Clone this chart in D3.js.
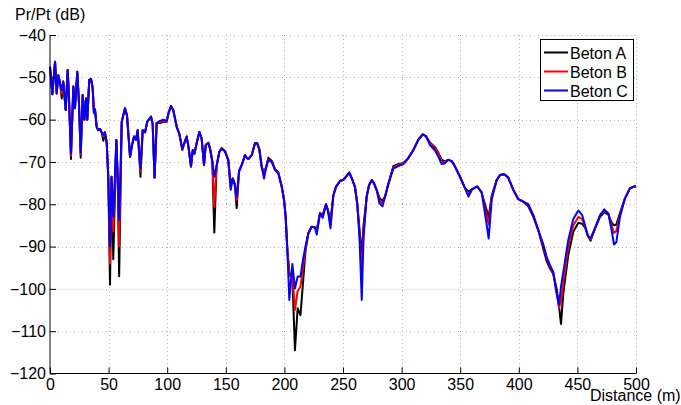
<!DOCTYPE html>
<html><head><meta charset="utf-8">
<script src="https://cdn.jsdelivr.net/npm/d3@7/dist/d3.min.js"></script>
<style>body{margin:0;background:#fff;}svg{display:block;font-family:"Liberation Sans",Arial,sans-serif;}</style>
</head><body>
<svg id="c" width="681" height="405"></svg>
<script>
const distance = [0,2.0,4.3,5.7,7.1,8.5,10.0,11.3,13.4,15.1,16.2,17.9,19.9,21.3,23.3,24.7,26.2,27.9,29.3,30.7,31.8,33.5,35.0,36.4,37.5,38.4,39.8,41.2,42.7,44.1,45.5,46.9,48.4,49.7,51.2,52.5,54.0,56.6,57.8,59.0,61.2,64.0,65.7,68.3,70.0,71.7,73.4,74.8,77.2,79.1,81.1,83.0,86.2,87.6,89.2,91.0,93.9,96.7,99.6,101.1,103.2,105.2,108.1,110.3,112.9,114.3,116.6,118.2,120.3,121.8,123.3,125.2,127.4,129.4,131.4,132.9,135.1,136.5,138.5,140.2,142.1,144.5,146.5,149.3,152.1,154.2,155.9,157.6,159.3,161.3,163.6,166.4,167.8,169.2,172.1,174.9,176.6,178.6,180.6,182.6,184.3,186.3,189.2,192.0,194.8,197.7,199.7,201.1,202.5,204.2,206.8,209.0,211.3,213.7,215.9,218.0,220.4,223.3,226.1,227.6,230.4,232.7,235.5,237.2,239.3,241.7,244.0,247.4,250.3,252.6,255.4,257.7,260.2,262.2,264.1,266.0,267.5,270.2,272.2,274.5,276.4,278.8,281.1,283.7,286.1,288.6,292.9,297.2,301.5,305.7,310.0,314.2,318.0,320.8,324.2,328.5,331.3,334.2,337.0,339.8,342.7,345.6,349.8,354.1,357.1,360.1,364.6,368.3,371.6,374.3,376.9,381.1,384.0,387.6,391.0,395.3,399.6,403.8,408.1,412.4,416.6,420.9,423.8,426.6,429.4,432.3,434.3,436.0,438.0,442.2,446.5,450.8,454.0,456.5,459.0,461.3,465.0,469.3,472.9,476.4,479.1,481.2,483.2,486.3,490.6,494.9,500.0];

const betonA = [-47.5,-54,-46.3,-53.8,-49.5,-51.3,-55,-51,-57.7,-48.3,-55,-69.3,-52.2,-57.3,-48.7,-56,-69,-54.2,-60,-55,-60,-50.6,-50.4,-52.5,-58.4,-57.6,-61.7,-62.5,-62.2,-63,-65,-63,-65.5,-73.5,-99,-73.5,-93,-64.8,-74,-97,-60.5,-57.3,-59,-68.8,-66,-64,-64.8,-62.5,-73.5,-62.5,-63,-60.5,-59.3,-61,-73.7,-60.8,-60.8,-60.5,-60.5,-58.5,-56.8,-57.8,-61.7,-63.3,-67.2,-65.8,-64,-66.5,-71.1,-67.2,-68,-65.5,-62.9,-64.5,-70.7,-66,-65.5,-66.8,-69.9,-86.7,-71,-67.6,-66.8,-67.5,-69.5,-75.5,-73.9,-75.2,-80.9,-72.2,-70.7,-68.4,-69,-69.3,-68.4,-65.6,-65.5,-67,-71.1,-72.5,-71.3,-69,-69.7,-71.7,-72.5,-75.7,-79,-83,-90.8,-96,-97.5,-114.5,-104.6,-106.2,-98.5,-91,-86.9,-85.3,-85.5,-86,-82.1,-82.5,-80,-81.5,-84,-78,-75.9,-74.5,-74.2,-73.5,-72.5,-74,-75.9,-80,-86,-92,-85,-78.2,-75.5,-74.3,-75,-76.7,-78.5,-79.2,-78,-75.3,-71,-70.5,-70.3,-69.1,-67.2,-64.8,-63.5,-63.9,-65.4,-66.5,-67.8,-69.5,-69.8,-69.5,-69.8,-71.1,-73.5,-76.2,-77,-76.5,-75.8,-77.2,-80.5,-83,-78,-74.3,-73.1,-72.9,-73.7,-76.6,-78.8,-79.4,-80.5,-83,-86.1,-90.5,-93.5,-95.2,-96.5,-100,-104,-108.3,-101,-92,-86.5,-84.4,-84.6,-85.5,-87.5,-88.6,-85.7,-83,-81.9,-82.4,-84.3,-85,-84.8,-82.1,-78.6,-76.2,-75.7];

const betonB = [-47.5,-54,-46.3,-53.8,-49.5,-51.3,-54,-51,-57.7,-48.3,-55,-68.5,-52.2,-57.3,-48.7,-56,-68.2,-54.2,-60,-55,-60,-50.6,-50.4,-52.5,-58.4,-57.6,-61.7,-62.5,-62.2,-63,-64,-63,-65.5,-73.5,-94,-73.5,-86.5,-64.8,-74,-90,-60.5,-57.3,-59,-68.8,-66,-64,-64.8,-62.5,-72.3,-62.5,-63,-60.5,-59.3,-61,-73.7,-60.8,-60.6,-60.3,-60.3,-58.5,-56.8,-57.8,-61.7,-63.3,-67,-65.8,-64,-66.5,-71.1,-67.2,-68,-65.5,-62.9,-64.5,-70.7,-66,-65.5,-66.8,-69.9,-80.6,-71,-67.6,-66.8,-67.5,-69.5,-76,-73.9,-75.2,-79,-72.2,-70.7,-68.4,-69,-69.3,-68.4,-65.6,-65.5,-67,-71.1,-73,-71.4,-69.3,-69.9,-71.8,-72.6,-75.8,-79,-83,-90.8,-97,-96.7,-105,-100.5,-99.5,-95,-90.5,-86.9,-85.3,-85.5,-86.5,-82.1,-82.8,-80,-81.5,-84.8,-78,-75.9,-74.5,-74.2,-73.5,-72.5,-74,-75.9,-80,-87,-97,-86.5,-78.2,-75.5,-74.3,-75,-76.7,-79.2,-79.8,-78,-75.3,-71.3,-70.7,-70.3,-69.1,-67.2,-64.8,-63.5,-63.9,-65.6,-66.8,-68,-70,-70,-69.5,-69.8,-71.1,-73.5,-76.2,-77.7,-76.5,-75.8,-77.2,-81.5,-84.8,-78.2,-74.3,-73.1,-72.9,-73.7,-76.6,-78.8,-79.4,-80.2,-82.6,-86.1,-89.8,-92.8,-94.8,-96.3,-101,-104.5,-103,-98.5,-90,-85,-83,-83.5,-85.3,-87.5,-88.3,-85.7,-82.6,-81.5,-82.2,-85,-86.8,-86.3,-82.5,-78.6,-76.2,-75.7];

const betonC = [-47.5,-54,-46.3,-53.8,-49.5,-51.3,-53,-51,-57.7,-48.3,-55,-68,-52.2,-57.3,-48.7,-56,-67.8,-54.2,-60,-55,-60,-50.6,-50.4,-52.5,-58.4,-57.6,-61.7,-62.5,-62.2,-63,-63.5,-63,-65.5,-73.5,-90,-73.5,-83,-64.8,-74,-83.7,-60.5,-57.3,-59,-68.8,-66,-64,-64.8,-62.5,-71.5,-62.5,-63,-60.5,-59.3,-61,-73.7,-60.8,-60.3,-60,-60.3,-58.5,-56.8,-57.8,-61.7,-63.3,-66.8,-65.8,-64,-66.5,-71.1,-67.2,-68,-65.5,-62.9,-64.5,-70.7,-66,-65.5,-66.8,-69.9,-73.5,-71,-67.6,-66.8,-67.5,-69.5,-76.6,-73.9,-75.2,-78.2,-72.2,-70.7,-68.4,-69,-69.3,-68.4,-65.6,-65.5,-67,-71.1,-73.9,-71.5,-69.5,-70,-71.9,-72.7,-75.9,-79,-83,-90.8,-102.6,-94.1,-99.9,-97.1,-97.1,-93,-90,-86.9,-85.3,-85.5,-87.2,-82.1,-83.2,-80,-81.5,-85.7,-78,-75.9,-74.5,-74.2,-73.5,-72.5,-74,-75.9,-80,-88,-102.6,-88,-78.2,-75.5,-74.3,-75,-76.7,-79.8,-80.5,-78,-75.3,-71.6,-71,-70.5,-69.1,-67.2,-64.8,-63.5,-63.9,-66,-67.3,-68.7,-70.5,-70.3,-69.5,-69.8,-71.1,-73.5,-76.2,-78.2,-76.5,-75.8,-77.2,-83,-88.1,-78.8,-74.3,-73.1,-72.9,-73.7,-76.6,-78.8,-79.4,-80,-82.6,-86.1,-89.5,-92.5,-94.4,-96,-101,-103.8,-99.5,-96,-88.5,-83.5,-81.5,-82.5,-85,-87.5,-88,-85.7,-82.6,-81.2,-82.2,-86,-89.5,-89,-83,-78.6,-76.2,-75.7];

const seriesNames = ["Beton A","Beton B","Beton C"];
const seriesColors = ["#000000","#ff0000","#0000ff"];
const xTicks = [0,50,100,150,200,250,300,350,400,450,500];
const yTicks = [-120,-110,-100,-90,-80,-70,-60,-50,-40];

const svg = d3.select("#c");
const L = 50, R = 636, T = 35, B = 373.5;
const x = d3.scaleLinear().domain([0,500]).range([L,R]);
const y = d3.scaleLinear().domain([-120,-40]).range([B,T]);

// grid
const grid = svg.append("g").attr("stroke","#b4b4b4").attr("stroke-width",1).attr("stroke-dasharray","1,3");
xTicks.forEach(t=>{ if(t>0) grid.append("line").attr("x1",Math.round(x(t))+0.5).attr("x2",Math.round(x(t))+0.5).attr("y1",T).attr("y2",B); });
yTicks.forEach(t=>{ if(t>-120) grid.append("line").attr("x1",L).attr("x2",R).attr("y1",Math.round(y(t))+0.5).attr("y2",Math.round(y(t))+0.5); });

// lines
const line = d3.line().x((d,i)=>x(distance[i])).y(d=>y(d));
[betonA,betonB,betonC].forEach((s,k)=>{
  svg.append("path").datum(s).attr("d",line).attr("fill","none")
    .attr("stroke",seriesColors[k]).attr("stroke-width",2).attr("stroke-linejoin","round");
});

// axes
const xAxis = d3.axisBottom(x).tickValues(xTicks).tickSize(-6).tickPadding(10).tickFormat(d3.format("d"));
const gx = svg.append("g").attr("transform",`translate(0,${B})`).call(xAxis);
gx.select(".domain").attr("stroke","#000").attr("d",`M${L},0H${R}`);
gx.selectAll(".tick line").attr("stroke","#000");
gx.selectAll("text").attr("font-size",16).attr("fill","#000").attr("font-family","Liberation Sans, Arial, sans-serif").attr("dy","0.7em").attr("y",5);

const yAxis = d3.axisLeft(y).tickValues(yTicks).tickSize(-6).tickPadding(5).tickFormat(d=>String(d).replace("-","\u2212"));
const gy = svg.append("g").attr("transform",`translate(${L},0)`).call(yAxis);
gy.select(".domain").attr("stroke","#000").attr("d",`M0,${B}V${T}`);
gy.selectAll(".tick line").attr("stroke","#000");
gy.selectAll("text").attr("font-size",16).attr("fill","#000").attr("font-family","Liberation Sans, Arial, sans-serif").attr("x",-4);

svg.append("text").attr("x",15).attr("y",20).attr("font-size",16).text("Pr/Pt (dB)");
svg.append("text").attr("x",590).attr("y",401).attr("font-size",16).text("Distance (m)");

// legend
const lg = svg.append("g");
lg.append("rect").attr("x",540.5).attr("y",39.5).attr("width",93).attr("height",61).attr("fill","#fff").attr("stroke","#000").attr("stroke-width",1);
seriesNames.forEach((n,i)=>{
  const yy = 52.5 + i*19;
  lg.append("line").attr("x1",544).attr("x2",568).attr("y1",yy).attr("y2",yy).attr("stroke",seriesColors[i]).attr("stroke-width",2);
  lg.append("text").attr("x",570).attr("y",yy+6).attr("font-size",16).text(n);
});
</script>
</body></html>
